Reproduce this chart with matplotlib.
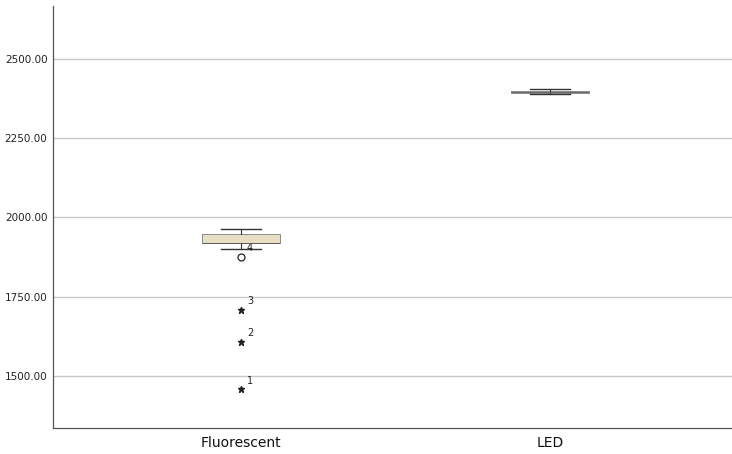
import matplotlib.pyplot as plt
import numpy as np

groups = ["Fluorescent", "LED"]
whislo = [1900.0, 2390.0]
q1 = [1919.0, 2393.0]
med = [1920.0, 2396.0]
q3 = [1947.0, 2399.0]
whishi = [1964.0, 2405.0]

# outliers (circle) and extremes (star) for the Fluorescent group, with case numbers
out_vals = [1876.0]
out_ids = ["4"]
ext_vals = [1708.0, 1608.0, 1458.0]
ext_ids = ["3", "2", "1"]

yticks = [1500, 1750, 2000, 2250, 2500]

fig = plt.figure(figsize=(7.32, 4.54), dpi=100)
ax = fig.add_axes([0.0724, 0.0573, 0.9276, 0.9295])

pos = np.arange(1, len(groups) + 1)
stats = []
for i, g in enumerate(groups):
    stats.append(dict(label=g, whislo=whislo[i], q1=q1[i], med=med[i],
                      q3=q3[i], whishi=whishi[i], fliers=[]))

ax.bxp(stats, positions=pos, widths=0.252, patch_artist=True,
       showfliers=False, capwidths=0.13,
       boxprops=dict(facecolor="#e6dfc3", edgecolor="#8a8a8a", linewidth=0.7),
       medianprops=dict(color="#555555", linewidth=0.6),
       whiskerprops=dict(color="#333333", linewidth=0.8),
       capprops=dict(color="#333333", linewidth=1.0),
       zorder=3)

x0 = pos[0]
ax.plot([x0] * len(out_vals), out_vals, "o", mfc="white", mec="#222222",
        ms=5, mew=0.9, zorder=4)
ax.plot([x0] * len(ext_vals), ext_vals, "*", color="#222222", ms=4.5, zorder=4)
for v, t in zip(out_vals + ext_vals, out_ids + ext_ids):
    ax.annotate(t, (x0, v), xytext=(4, 4), textcoords="offset points",
                fontsize=7, color="#222222")

ax.set_xlim(0.39, 2.59)
ax.set_ylim(1336, 2667)
ax.set_yticks(yticks)
ax.set_yticklabels([f"{v:.2f}" for v in yticks], fontsize=7.5, color="#222222")
ax.set_xticks(pos)
ax.set_xticklabels(groups, fontsize=10, color="#111111")
ax.tick_params(axis="x", length=0, pad=6)
ax.tick_params(axis="y", length=0, pad=4)
ax.yaxis.grid(True, color="#c8c8c8", linewidth=1.0)
ax.set_axisbelow(True)
for s in ["top", "right"]:
    ax.spines[s].set_visible(False)
for s in ["left", "bottom"]:
    ax.spines[s].set_color("#555555")
    ax.spines[s].set_linewidth(0.9)

fig.savefig("out.png", dpi=100)
